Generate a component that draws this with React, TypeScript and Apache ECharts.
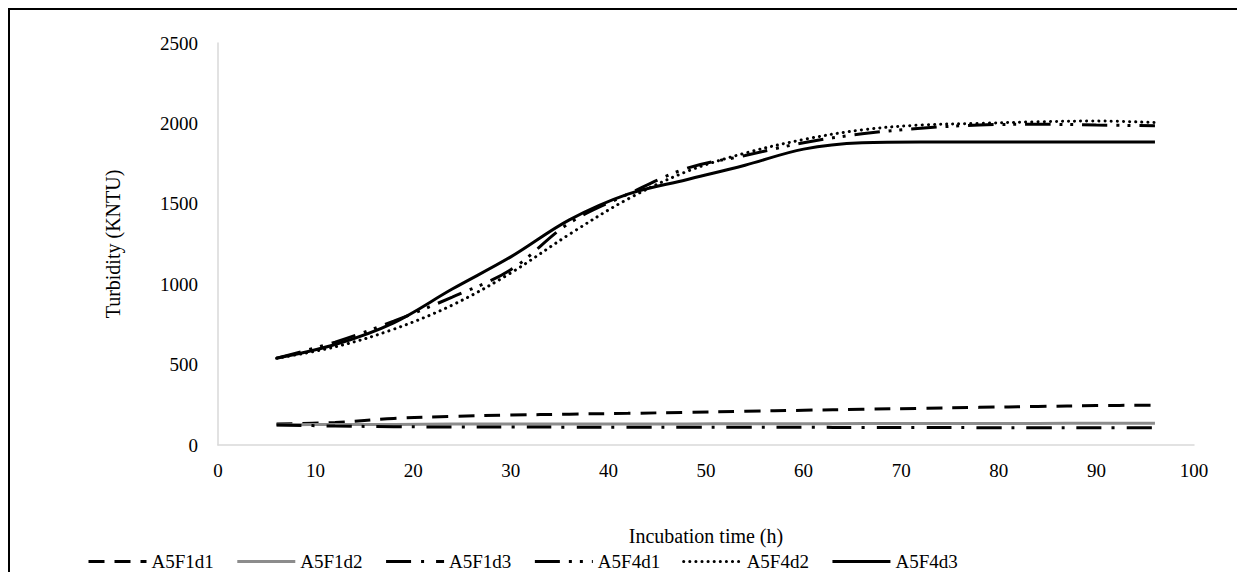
import React, { useEffect, useRef } from "react";
import * as echarts from "echarts";

const hours = [6, 12, 18, 24, 30, 36, 42, 48, 54, 60, 66, 72, 78, 84, 90, 96];
const seriesNames = ["A5F1d1", "A5F1d2", "A5F1d3", "A5F4d1", "A5F4d2", "A5F4d3"];
const A5F1d1 = [130, 140, 165, 178, 186, 192, 197, 203, 210, 216, 222, 228, 234, 240, 245, 248];
const A5F1d2 = [125, 128, 128, 130, 130, 130, 130, 131, 132, 132, 133, 133, 134, 134, 135, 135];
const A5F1d3 = [125, 118, 114, 112, 112, 111, 111, 110, 110, 110, 109, 109, 108, 108, 108, 108];
const A5F4d1 = [540, 640, 770, 920, 1090, 1380, 1560, 1720, 1800, 1880, 1935, 1970, 1990, 1995, 1990, 1985];
const A5F4d2 = [540, 610, 720, 870, 1070, 1310, 1530, 1700, 1815, 1900, 1960, 1990, 2000, 2010, 2015, 2005];
const A5F4d3 = [540, 625, 760, 970, 1170, 1400, 1560, 1650, 1740, 1840, 1880, 1885, 1885, 1885, 1885, 1885];
const xTicks = [0, 10, 20, 30, 40, 50, 60, 70, 80, 90, 100];
const yTicks = [0, 500, 1000, 1500, 2000, 2500];

const FONT = "'Liberation Serif', 'Times New Roman', serif";

export default function App() {
  const ref = useRef<HTMLDivElement>(null);
  useEffect(() => {
    if (!ref.current) return;
    const chart = echarts.init(ref.current, undefined, { renderer: "svg" });
    const all = [A5F1d1, A5F1d2, A5F1d3, A5F4d1, A5F4d2, A5F4d3];
    const styles: any[] = [
      { color: "#000", width: 3, type: [16, 10] },
      { color: "#8c8c8c", width: 3, type: "solid" },
      { color: "#000", width: 3, type: [25, 10, 3, 12] },
      { color: "#000", width: 3, type: [25, 9, 3, 8, 3, 9] },
      { color: "#000", width: 3, type: [0.1, 6], cap: "round" },
      { color: "#000", width: 3, type: "solid" },
    ];
    const series = seriesNames.map((name, i) => ({
      name,
      type: "line",
      smooth: 0.35,
      symbol: "none",
      data: hours.map((h, j) => [h, all[i][j]]),
      lineStyle: styles[i],
      itemStyle: { color: styles[i].color },
    }));
    chart.setOption({
      animation: false,
      textStyle: { fontFamily: FONT },
      grid: { left: 208, right: 51, top: 33, bottom: 127 },
      legend: {
        left: 72,
        top: 537,
        itemWidth: 58,
        itemHeight: 14,
        itemGap: 22,
        itemStyle: { opacity: 0 },
        lineStyle: { width: 3 },
        textStyle: { fontFamily: FONT, fontSize: 19, color: "#000" },
        data: seriesNames,
      },
      xAxis: {
        type: "value",
        min: xTicks[0],
        max: xTicks[xTicks.length - 1],
        interval: 10,
        name: "Incubation time (h)",
        nameLocation: "middle",
        nameGap: 81,
        nameTextStyle: { fontFamily: FONT, fontSize: 20, color: "#000" },
        axisLine: { lineStyle: { color: "#d9d9d9", width: 1.5 } },
        axisTick: { show: false },
        splitLine: { show: false },
        axisLabel: { fontFamily: FONT, fontSize: 19, color: "#000", margin: 16 },
      },
      yAxis: {
        type: "value",
        min: yTicks[0],
        max: yTicks[yTicks.length - 1],
        interval: 500,
        name: "Turbidity (KNTU)",
        nameLocation: "middle",
        nameGap: 95,
        nameTextStyle: { fontFamily: FONT, fontSize: 20, color: "#000" },
        axisLine: { show: true, lineStyle: { color: "#d9d9d9", width: 1.5 } },
        axisTick: { show: false },
        splitLine: { show: false },
        axisLabel: {
          fontFamily: FONT,
          fontSize: 19,
          color: "#000",
          margin: 20,
          formatter: (v: number) => String(v),
        },
      },
      series,
    });
    return () => chart.dispose();
  }, []);
  return (
    <div
      style={{
        width: 1237,
        height: 564,
        boxSizing: "border-box",
        borderTop: "2px solid #000",
        borderLeft: "2px solid #000",
        background: "#fff",
      }}
    >
      <div ref={ref} style={{ width: 1235, height: 562 }} />
    </div>
  );
}
